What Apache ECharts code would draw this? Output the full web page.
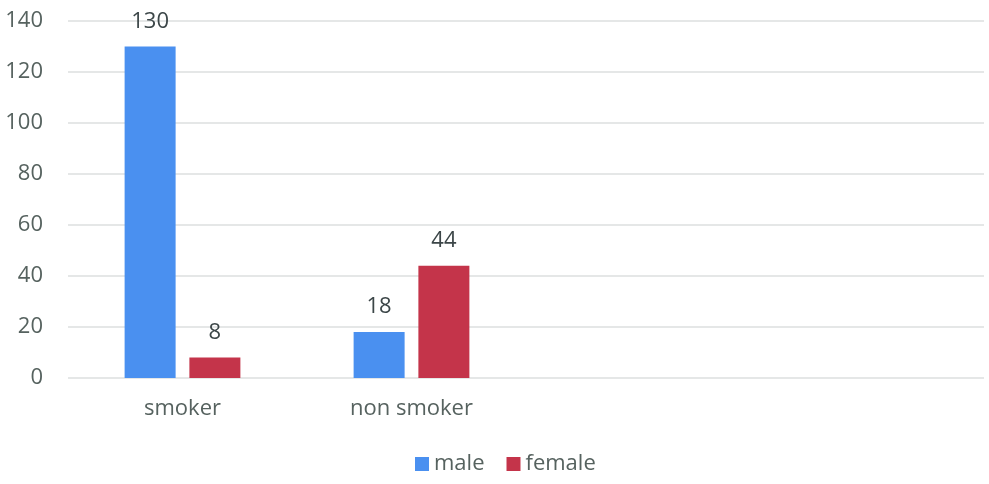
<!DOCTYPE html>
<html><head><meta charset="utf-8">
<script src="https://cdn.jsdelivr.net/npm/echarts@6/dist/echarts.min.js"></script>
<style>html,body{margin:0;padding:0;background:#fff}#c{width:989px;height:484px}</style>
</head><body><div id="c"></div>
<script>
var categories = ['smoker', 'non smoker', '', ''];
var male = [130, 18, null, null];
var female = [8, 44, null, null];
var seriesNames = ['male', 'female'];
var yTicks = {min: 0, max: 140, interval: 20};

var textColor = '#56625f';
var font = 'Open Sans';
var chart = echarts.init(document.getElementById('c'));
chart.setOption({
  animation: false,
  grid: {left: 68, right: 5, top: 21, bottom: 106},
  legend: {
    data: seriesNames, bottom: 4, left: 410,
    itemWidth: 14, itemHeight: 14, itemGap: 22,
    icon: 'rect',
    textStyle: {color: textColor, fontFamily: font, fontSize: 22}
  },
  xAxis: {
    type: 'category', data: categories,
    axisLine: {show: false}, axisTick: {show: false},
    axisLabel: {color: textColor, fontFamily: font, fontSize: 22, margin: 20}
  },
  yAxis: {
    type: 'value', min: yTicks.min, max: yTicks.max, interval: yTicks.interval,
    axisLine: {show: false}, axisTick: {show: false},
    axisLabel: {color: textColor, fontFamily: font, fontSize: 22, margin: 25},
    splitLine: {lineStyle: {color: '#dcdfdf', width: 1.5}}
  },
  series: [
    {name: seriesNames[0], type: 'bar', data: male, barWidth: 51, barGap: '27%',
     itemStyle: {color: '#4a90f0'},
     label: {show: true, position: 'top', distance: 14, color: '#3c4648', fontFamily: font, fontSize: 22}},
    {name: seriesNames[1], type: 'bar', data: female, barWidth: 51,
     itemStyle: {color: '#c4344a'},
     label: {show: true, position: 'top', distance: 14, color: '#3c4648', fontFamily: font, fontSize: 22}}
  ]
});
</script></body></html>
